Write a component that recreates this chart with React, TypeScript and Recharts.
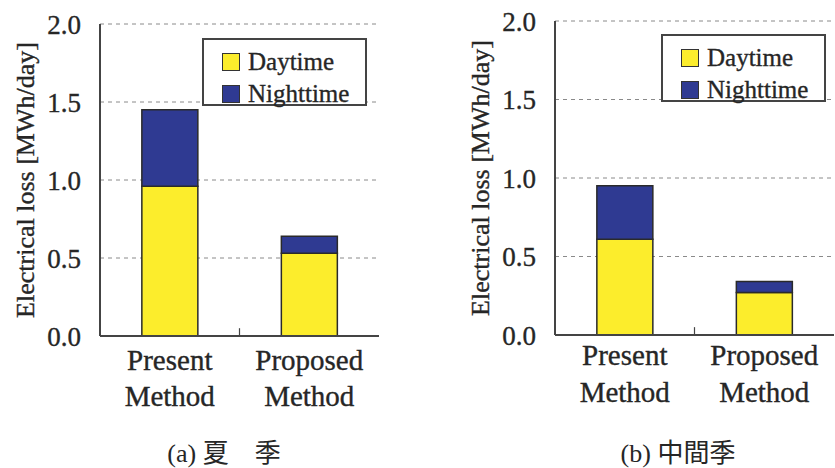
import React from 'react';
import { BarChart, Bar, XAxis, YAxis, CartesianGrid, Legend, ReferenceLine } from 'recharts';

// Categories and the two-line tick text under each bar
const methods = ['Present Method', 'Proposed Method'];
const methodLines = [
  ['Present', 'Method'],
  ['Proposed', 'Method'],
];

// Electrical loss [MWh/day], stacked as daytime + nighttime
const summerDaytime = [0.96, 0.53];
const summerNighttime = [0.49, 0.11];
const midSeasonDaytime = [0.61, 0.27];
const midSeasonNighttime = [0.34, 0.07];

const yTicks = [0, 0.5, 1.0, 1.5, 2.0];
const seriesNames = ['Daytime', 'Nighttime'];
const yLabel = 'Electrical loss [MWh/day]';
const captions = ['(a) 夏\u3000季', '(b) 中間季'];

const FONT = "'Liberation Serif', 'Times New Roman', 'Noto Sans CJK JP', serif";
const TEXT = '#262626';
const FRAME = '#444';
const DAY_FILL = '#fced2c';
const NIGHT_FILL = '#2f3a92';
const TEXT_STROKE = 0.35;

const buildRows = (day: number[], night: number[]) =>
  methods.map((m, i) => ({ method: m, day: day[i], night: night[i] }));

const summerRows = buildRows(summerDaytime, summerNighttime);
const midSeasonRows = buildRows(midSeasonDaytime, midSeasonNighttime);

const MethodTick = (props: any) => {
  const { x, y, payload, lineOffsets } = props;
  const idx = methods.indexOf(payload.value);
  const lines = methodLines[idx] || [payload.value];
  return (
    <g>
      {lines.map((ln: string, k: number) => (
        <text
          key={k}
          x={x}
          y={y + lineOffsets[k]}
          textAnchor="middle"
          fontFamily={FONT}
          fontSize={29}
          fill={TEXT}
          stroke={TEXT}
          strokeWidth={TEXT_STROKE}
        >
          {ln}
        </text>
      ))}
    </g>
  );
};

const LegendBox = (props: any) => {
  const { payload } = props;
  return (
    <div
      style={{
        boxSizing: 'border-box',
        width: 165,
        height: 68,
        border: `2px solid ${FRAME}`,
        background: '#fff',
        paddingTop: 6,
        fontFamily: FONT,
        color: TEXT,
      }}
    >
      {(payload || []).map((item: any) => (
        <div
          key={item.value}
          style={{ display: 'flex', alignItems: 'center', height: 32, paddingLeft: 18 }}
        >
          <span
            style={{
              display: 'inline-block',
              boxSizing: 'border-box',
              width: 18,
              height: 18,
              background: item.color,
              border: '1.5px solid #333',
              marginRight: 8,
            }}
          />
          <span
            style={{
              fontSize: 25,
              lineHeight: '32px',
              WebkitTextStroke: `${TEXT_STROKE}px ${TEXT}`,
            }}
          >
            {item.value}
          </span>
        </div>
      ))}
    </div>
  );
};

const AxisTitle = (props: any) => {
  const { viewBox } = props;
  const cx = viewBox.x + 25;
  const cy = viewBox.y + viewBox.height / 2;
  return (
    <text
      x={cx}
      y={cy}
      transform={`rotate(-90 ${cx} ${cy})`}
      textAnchor="middle"
      dominantBaseline="central"
      fontFamily={FONT}
      fontSize={26}
      fill={TEXT}
      stroke={TEXT}
      strokeWidth={TEXT_STROKE}
    >
      {yLabel}
    </text>
  );
};

type PanelProps = {
  rows: { method: string; day: number; night: number }[];
  left: number;
  width: number;
  marginTop: number;
  marginRight: number;
  xAxisHeight: number;
  lineOffsets: number[];
  legendLeft: number;
  legendTop: number;
};

const Panel = ({
  rows,
  left,
  width,
  marginTop,
  marginRight,
  xAxisHeight,
  lineOffsets,
  legendLeft,
  legendTop,
}: PanelProps) => (
  <div style={{ position: 'absolute', left, top: 0 }}>
    <BarChart
      width={width}
      height={468}
      data={rows}
      margin={{ top: marginTop, right: marginRight, left: 0, bottom: 0 }}
      barCategoryGap="30%"
    >
      <CartesianGrid vertical={false} stroke="#8a8a8a" strokeDasharray="4 4" strokeWidth={1} />
      <XAxis
        dataKey="method"
        height={xAxisHeight}
        tickLine={false}
        tickSize={0}
        tickMargin={0}
        axisLine={{ stroke: FRAME, strokeWidth: 2 }}
        tick={<MethodTick lineOffsets={lineOffsets} />}
        interval={0}
      />
      <XAxis
        xAxisId="frameTop"
        orientation="top"
        dataKey="method"
        height={0}
        tick={false}
        tickLine={false}
        axisLine={{ stroke: FRAME, strokeWidth: 2 }}
      />
      <YAxis
        width={100}
        domain={[0, 2]}
        ticks={yTicks}
        tickFormatter={(v: number) => v.toFixed(1)}
        tickLine={false}
        tickSize={0}
        tickMargin={19}
        axisLine={{ stroke: FRAME, strokeWidth: 2 }}
        tick={{ fontFamily: FONT, fontSize: 27, fill: TEXT, stroke: TEXT, strokeWidth: TEXT_STROKE }}
        label={{ content: <AxisTitle /> }}
      />
      <YAxis
        yAxisId="frameRight"
        orientation="right"
        width={0}
        type="number"
        domain={[0, 2]}
        tick={false}
        tickLine={false}
        axisLine={{ stroke: FRAME, strokeWidth: 2 }}
      />
      {/* short inner tick on the boundary between the two categories */}
      <ReferenceLine
        position="end"
        segment={[
          { x: methods[0], y: 0 },
          { x: methods[0], y: 0.05 },
        ]}
        stroke={FRAME}
        strokeWidth={1.2}
      />
      <Legend
        layout="vertical"
        align="center"
        verticalAlign="middle"
        content={<LegendBox />}
        wrapperStyle={{ left: legendLeft, top: legendTop, width: 'auto', height: 'auto' }}
      />
      <Bar
        dataKey="day"
        name={seriesNames[0]}
        stackId="loss"
        fill={DAY_FILL}
        stroke="#2a2a2a"
        strokeWidth={1.5}
        isAnimationActive={false}
      />
      <Bar
        dataKey="night"
        name={seriesNames[1]}
        stackId="loss"
        fill={NIGHT_FILL}
        stroke="#2a2a2a"
        strokeWidth={1.5}
        isAnimationActive={false}
      />
    </BarChart>
  </div>
);

const Caption = ({ text, center }: { text: string; center: number }) => (
  <div
    style={{
      position: 'absolute',
      left: center - 120,
      width: 240,
      top: 439,
      textAlign: 'center',
      fontFamily: FONT,
      fontSize: 26,
      lineHeight: '30px',
      color: TEXT,
      whiteSpace: 'pre',
    }}
  >
    {text}
  </div>
);

export default function App() {
  return (
    <div
      style={{
        position: 'absolute',
        left: 0,
        top: 0,
        width: 835,
        height: 468,
        background: '#fff',
        overflow: 'hidden',
      }}
    >
      <Panel
        rows={summerRows}
        left={0}
        width={390}
        marginTop={24}
        marginRight={11}
        xAxisHeight={132}
        lineOffsets={[34, 70]}
        legendLeft={202}
        legendTop={38}
      />
      <Panel
        rows={midSeasonRows}
        left={455}
        width={380}
        marginTop={21}
        marginRight={1}
        xAxisHeight={133}
        lineOffsets={[30, 67]}
        legendLeft={206}
        legendTop={34}
      />
      <Caption text={captions[0]} center={224} />
      <Caption text={captions[1]} center={678} />
    </div>
  );
}
